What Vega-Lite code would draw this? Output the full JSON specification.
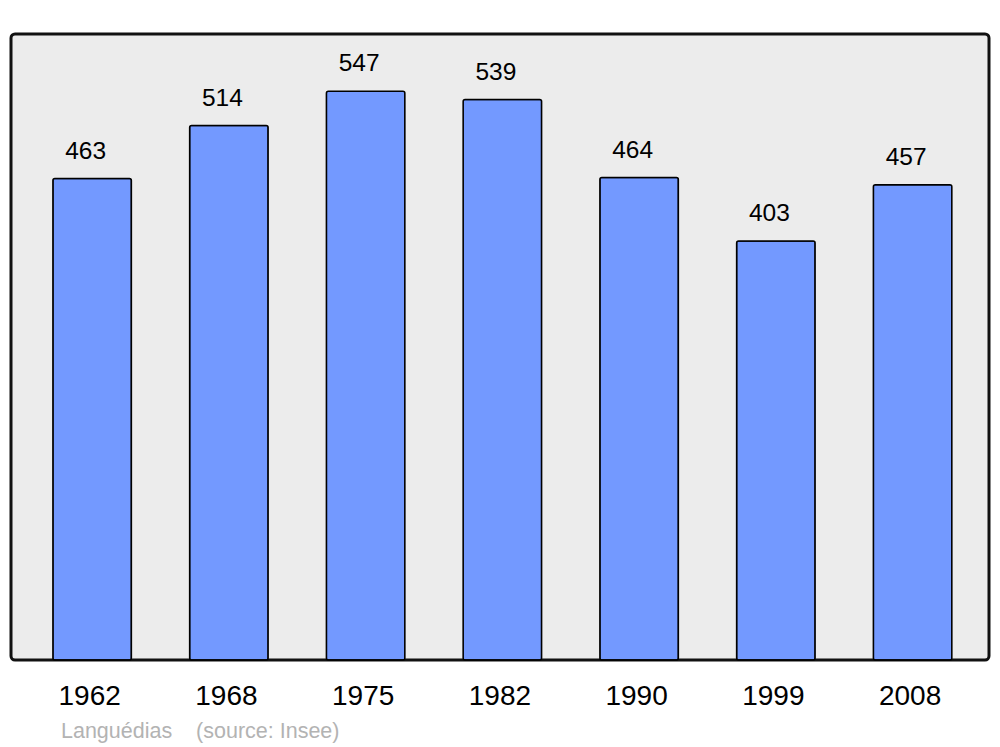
{
  "$schema": "https://vega.github.io/schema/vega-lite/v6.json",
  "width": 978,
  "height": 626,
  "autosize": {"type": "none"},
  "padding": {"left": 11, "top": 34, "right": 11, "bottom": 87},
  "background": "white",
  "config": {
    "font": "Liberation Sans",
    "view": {"fill": "#ececec", "stroke": "#111111", "strokeWidth": 3, "cornerRadius": 4}
  },
  "title": {
    "text": "Languédias\u00a0\u00a0\u00a0\u00a0(source: Insee)",
    "orient": "bottom",
    "anchor": "start",
    "dx": 50,
    "offset": 11,
    "fontSize": 21.5,
    "fontWeight": "normal",
    "color": "#b3b3b3",
    "font": "Liberation Sans"
  },
  "data": {
    "values": [
      {"year": "1962", "population": 463},
      {"year": "1968", "population": 514},
      {"year": "1975", "population": 547},
      {"year": "1982", "population": 539},
      {"year": "1990", "population": 464},
      {"year": "1999", "population": 403},
      {"year": "2008", "population": 457}
    ]
  },
  "encoding": {
    "x": {
      "field": "year",
      "type": "ordinal",
      "sort": null,
      "scale": {"paddingInner": 0.426, "paddingOuter": 0.289, "align": 0.53},
      "axis": {
        "title": null,
        "labelAngle": 0,
        "domain": false,
        "ticks": false,
        "labelFontSize": 28,
        "labelColor": "#000000",
        "labelPadding": 22,
        "labelOffset": -2.5,
        "labelFont": "Liberation Sans"
      }
    },
    "y": {
      "field": "population",
      "type": "quantitative",
      "scale": {"domain": [0, 602], "nice": false},
      "axis": null
    }
  },
  "layer": [
    {
      "mark": {"type": "bar", "fill": "#7399ff", "stroke": "#000000", "strokeWidth": 1.5, "cornerRadius": 2}
    },
    {
      "mark": {"type": "text", "baseline": "alphabetic", "dy": -20, "dx": -6.5, "fontSize": 24.5, "color": "#000000", "font": "Liberation Sans"},
      "encoding": {"text": {"field": "population", "type": "quantitative"}}
    }
  ]
}
